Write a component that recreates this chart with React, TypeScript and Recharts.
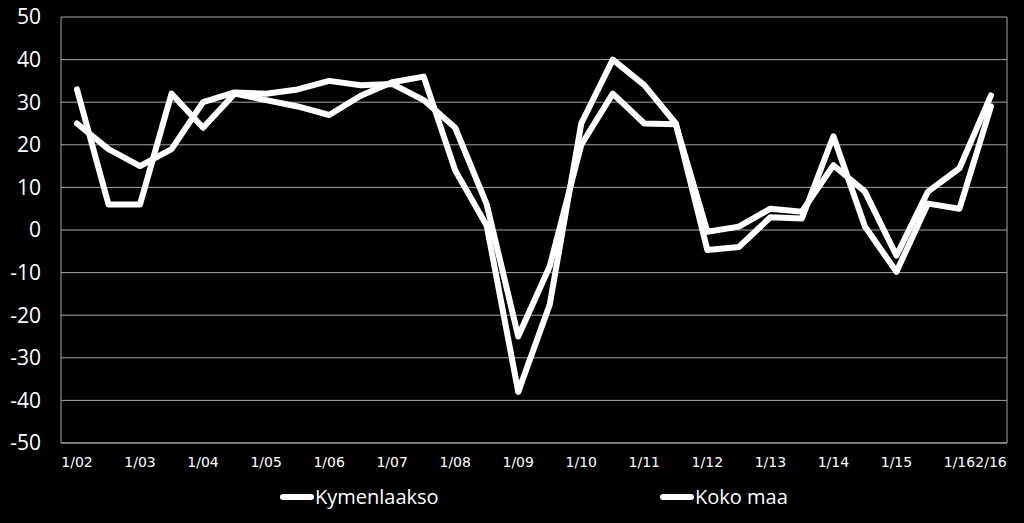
import React from 'react';
import { LineChart, Line, XAxis, YAxis, CartesianGrid, Legend } from 'recharts';

const categories = [
  '1/02', '2/02', '1/03', '2/03', '1/04', '2/04', '1/05', '2/05', '1/06', '2/06',
  '1/07', '2/07', '1/08', '2/08', '1/09', '2/09', '1/10', '2/10', '1/11', '2/11',
  '1/12', '2/12', '1/13', '2/13', '1/14', '2/14', '1/15', '2/15', '1/16', '2/16',
];

const kymenlaakso = [
  33, 6, 6, 32, 24, 32, 30.5, 29, 27, 31.5,
  34.7, 36, 14, 1, -38, -17.5, 25, 40, 34, 25,
  -4.7, -4, 3, 2.7, 22, 0.8, -9.8, 6.2, 5, 29,
];

const kokoMaa = [
  25, 19, 15, 19, 30, 32.3, 32, 33, 35, 34,
  34.3, 30.5, 24, 6, -25, -8.5, 20, 32, 25, 24.8,
  -0.4, 0.8, 5, 4.3, 15.2, 9, -6, 9, 14.5, 31.6,
];

const xTickLabels = [
  '1/02', '1/03', '1/04', '1/05', '1/06', '1/07', '1/08', '1/09',
  '1/10', '1/11', '1/12', '1/13', '1/14', '1/15', '1/16', '2/16',
];

const yTicks = [-50, -40, -30, -20, -10, 0, 10, 20, 30, 40, 50];

const seriesNames = ['Kymenlaakso', 'Koko maa'];

const data = categories.map((c, i) => ({
  period: c,
  kymenlaakso: kymenlaakso[i],
  kokoMaa: kokoMaa[i],
}));

const GRID = '#a6a6a6';

const LegendContent = () => {
  const lefts = [280, 660];
  return (
    <div style={{ position: 'relative', width: 1024, height: 30 }}>
      {seriesNames.map((name, i) => (
        <div
          key={name}
          style={{
            position: 'absolute',
            left: lefts[i],
            top: 0,
            height: 30,
            display: 'flex',
            alignItems: 'center',
            whiteSpace: 'nowrap',
          }}
        >
          <svg width={34} height={10} style={{ display: 'block' }}>
            <line x1={3} y1={5} x2={31} y2={5} stroke="#fff" strokeWidth={6} strokeLinecap="round" />
          </svg>
          <span
            style={{
              color: '#fff',
              fontFamily: '"Open Sans", sans-serif',
              fontSize: 20,
              lineHeight: '30px',
              marginLeft: 1,
            }}
          >
            {name}
          </span>
        </div>
      ))}
    </div>
  );
};

export default function App() {
  return (
    <div
      style={{
        position: 'fixed',
        left: 0,
        top: 0,
        width: 1024,
        height: 523,
        background: '#000',
        overflow: 'hidden',
      }}
    >
      <LineChart
        width={1024}
        height={523}
        data={data}
        margin={{ top: 17, right: 17, bottom: 20, left: 0 }}
      >
        <CartesianGrid
          stroke={GRID}
          strokeWidth={1}
          vertical={true}
          verticalCoordinatesGenerator={(props: any) => [props.offset.left + props.offset.width]}
        />
        <XAxis
          dataKey="period"
          ticks={xTickLabels}
          interval={0}
          tickLine={false}
          tickSize={0}
          tickMargin={14}
          height={30}
          padding={{ left: 16, right: 16 }}
          axisLine={{ stroke: GRID, strokeWidth: 1 }}
          tick={{ fill: '#fff', fontSize: 14, fontFamily: '"DejaVu Sans", sans-serif' }}
        />
        <YAxis
          domain={[-50, 50]}
          ticks={yTicks}
          interval={0}
          width={61}
          tickLine={false}
          tickSize={0}
          tickMargin={20}
          axisLine={{ stroke: GRID, strokeWidth: 1 }}
          tick={{ fill: '#fff', fontSize: 21, fontFamily: '"Open Sans", sans-serif' }}
        />
        <Legend
          verticalAlign="bottom"
          height={30}
          wrapperStyle={{ left: 0, top: 482, width: 1024, height: 30 }}
          content={() => <LegendContent />}
        />
        <Line
          type="linear"
          dataKey="kokoMaa"
          name="Koko maa"
          stroke="#fff"
          strokeWidth={6}
          strokeLinejoin="round"
          strokeLinecap="round"
          dot={false}
          activeDot={false}
          isAnimationActive={false}
        />
        <Line
          type="linear"
          dataKey="kymenlaakso"
          name="Kymenlaakso"
          stroke="#fff"
          strokeWidth={6}
          strokeLinejoin="round"
          strokeLinecap="round"
          dot={false}
          activeDot={false}
          isAnimationActive={false}
        />
      </LineChart>
    </div>
  );
}
